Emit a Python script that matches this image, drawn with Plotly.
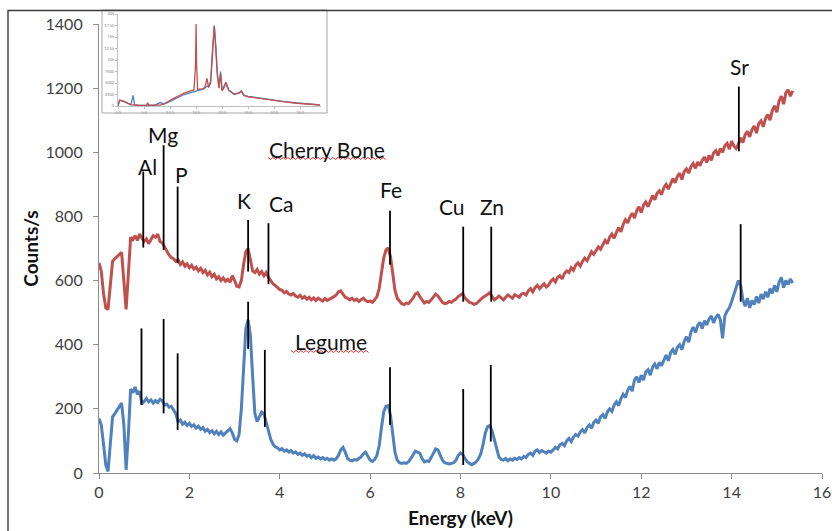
import numpy as np
import plotly.graph_objects as go

# ---------------- data ----------------
energy_step = 0.05  # keV per sample
cherry_bone = [
    655,630,560,515,510,580,660,668,675,682,688,600,510,620,735,728,740,725,745,732,
    722,730,715,728,740,735,745,722,718,705,690,680,672,668,660,665,650,658,645,652,
    640,648,636,642,630,638,625,632,618,626,612,620,605,612,600,608,598,604,595,615,
    600,582,580,600,650,690,700,665,630,625,635,620,628,615,625,610,600,590,585,578,
    572,570,562,566,558,555,560,552,548,554,545,550,542,548,540,546,538,545,540,536,
    544,538,542,545,550,555,565,568,558,548,545,540,545,538,542,535,540,545,538,534,
    536,532,540,550,575,620,670,695,702,675,620,570,545,535,528,525,530,528,535,545,
    558,562,550,538,530,535,532,540,550,558,552,540,532,528,530,535,532,538,542,550,
    556,560,545,538,532,530,526,528,535,542,548,552,558,562,550,540,545,552,546,540,
    548,555,550,545,556,552,548,558,560,555,568,575,565,578,585,575,582,590,580,586,
    598,605,596,610,615,605,622,630,625,640,632,648,655,645,660,670,662,675,690,682,
    695,705,698,712,725,715,735,745,732,750,765,752,775,790,780,798,810,795,818,830,
    812,835,845,830,850,865,852,872,880,868,890,900,885,905,918,905,925,935,915,940,
    948,935,955,965,950,970,958,975,985,968,990,975,998,1005,990,1012,1000,1020,1028,1010,
    1035,1020,1012,1025,1045,1030,1055,1065,1048,1070,1082,1060,1090,1098,1080,1105,1118,1100,1130,1145,
    1125,1160,1175,1150,1185,1195,1175,1192,
]
legume = [
    170,150,90,25,5,80,175,185,195,205,218,150,10,120,262,250,268,245,255,215,
    225,232,222,228,218,226,220,230,225,212,215,205,208,198,185,160,165,152,158,148,
    155,145,150,140,146,136,142,130,136,126,132,122,130,120,128,118,125,130,138,125,
    105,100,120,200,340,450,478,430,300,185,160,175,190,185,160,130,105,90,82,78,
    72,76,68,72,65,70,62,66,58,62,55,60,52,56,48,54,46,50,44,48,
    42,46,40,44,40,45,55,72,80,65,45,40,38,42,40,45,50,60,65,52,
    40,36,42,55,85,140,190,208,210,180,120,65,40,32,30,32,30,35,45,58,
    68,65,62,45,35,38,36,48,62,75,72,55,40,32,30,28,30,32,40,55,
    62,58,45,35,30,26,30,35,45,60,90,125,145,148,130,100,70,50,42,40,
    45,38,44,40,46,42,48,44,52,48,58,62,55,68,72,64,70,66,62,68,
    65,72,80,75,88,92,85,100,108,98,112,120,115,128,135,125,142,150,140,158,
    165,155,175,182,170,190,200,192,212,222,210,232,245,235,258,270,255,290,300,282,
    305,290,315,322,305,330,340,325,345,335,355,368,350,375,385,370,392,400,385,410,
    425,408,440,455,438,460,470,450,475,462,480,490,468,485,495,478,420,490,505,515,
    535,555,575,600,585,540,520,545,515,538,525,550,530,558,542,565,548,575,560,585,
    565,595,610,578,600,588,605,592,
]

elements = ["Al", "Mg", "P", "K", "Ca", "Fe", "Cu", "Zn", "Sr"]
cherry_line_x = [0.98, 1.43, 1.74, 3.30, 3.75, 6.44, 8.06, 8.68, 14.16]
cherry_line_top = [940, 1022, 893, 789, 779, 818, 768, 768, 1205]
cherry_line_bottom = [703, 695, 654, 628, 589, 649, 534, 534, 1003]
legume_line_x = [0.94, 1.43, 1.74, 3.30, 3.67, 6.44, 8.06, 8.67, 14.20]
legume_line_top = [451, 480, 373, 534, 384, 330, 262, 337, 776]
legume_line_bottom = [212, 186, 134, 387, 144, 150, 25, 98, 534]

series_names = ["Cherry Bone", "Legume"]

# inset (embedded overview spectrum)
inset_energy = [0, 0.3, 1.0, 2.0, 2.5, 2.9, 3.2, 4, 5.5, 5.7, 5.9, 7, 8.1, 8.9, 10, 10.8, 12, 12.7,
                14, 14.6, 14.9, 15.0, 15.1, 15.3, 16, 16.5, 16.8, 17.1, 17.4, 17.8, 18.2, 18.5,
                18.8, 19.1, 19.4, 19.7, 20.0, 20.4, 20.7, 21.0, 21.3, 22.3, 23.3, 23.7, 24.2,
                25, 26.7, 28, 30.5, 32, 34.4, 36, 38.8]
inset_red = [0, 1300, 1100, 600, 250, 250, 200, 150, 200, 700, 200, 150, 200, 500, 1100, 1700, 2400, 2800,
             3300, 3500, 9000, 17800, 9000, 3600, 3700, 3800, 4500, 6000, 4000, 5000, 12000, 17500,
             12000, 6500, 3900, 7000, 3300, 4000, 5200, 4200, 3500, 2600, 2900, 3300, 2300,
             2000, 1700, 1450, 1100, 900, 600, 420, 220]
inset_blue = [0, 1200, 1000, 550, 300, 2300, 300, 150, 150, 300, 150, 150, 750, 450, 1000, 1500, 2200, 2500,
              2900, 3100, 3300, 3300, 3300, 3400, 3500, 3700, 4000, 4300, 4200, 5500, 13000, 17400,
              13000, 7000, 4000, 7500, 3500, 4200, 5000, 4000, 3400, 2500, 2800, 3200, 2300,
              2100, 1800, 1500, 1200, 950, 650, 450, 250]

# ---------------- layout constants ----------------
W, H = 832, 531
L, R, T, B = 99, 10, 10, 58
PW, PH = W - L - R, H - T - B
RED = "#C0504D"
BLUE = "#4F81BD"
FONT = "Lato"


def px(x):
    return (x - L) / PW


def py(y):
    return (H - B - y) / PH


energy = np.round(np.arange(len(cherry_bone)) * energy_step, 2)
energy_b = np.round(np.arange(len(legume)) * energy_step, 2)

fig = go.Figure()

fig.add_trace(go.Scatter(x=energy, y=cherry_bone, mode="lines", name=series_names[0],
                         line=dict(color=RED, width=3)))
fig.add_trace(go.Scatter(x=energy_b, y=legume, mode="lines", name=series_names[1],
                         line=dict(color=BLUE, width=3)))


def seg(xs, tops, bottoms):
    X, Y = [], []
    for x, t, b in zip(xs, tops, bottoms):
        X += [x, x, None]
        Y += [b, t, None]
    return X, Y


for xs, tops, bots in [(cherry_line_x, cherry_line_top, cherry_line_bottom),
                       (legume_line_x, legume_line_top, legume_line_bottom)]:
    X, Y = seg(xs, tops, bots)
    fig.add_trace(go.Scatter(x=X, y=Y, mode="lines", line=dict(color="black", width=1.8),
                             hoverinfo="skip"))

# inset traces
fig.add_trace(go.Scatter(x=inset_energy, y=inset_blue, mode="lines", xaxis="x2", yaxis="y2",
                         line=dict(color=BLUE, width=1.3)))
fig.add_trace(go.Scatter(x=inset_energy, y=inset_red, mode="lines", xaxis="x2", yaxis="y2",
                         line=dict(color=RED, width=1.3)))

# element labels (pixel positions above the Cherry Bone markers)
label_px = {"Al": (147, 166), "Mg": (163, 134), "P": (181, 174), "K": (244, 200),
            "Ca": (281, 203), "Fe": (391, 189), "Cu": (452, 206), "Zn": (492, 206),
            "Sr": (739, 67)}
annotations = []
for el in elements:
    x, y = label_px[el]
    annotations.append(dict(x=px(x), y=py(y), xref="paper", yref="paper", text=el,
                            showarrow=False, xanchor="center", yanchor="middle",
                            font=dict(family=FONT, size=21, color="#111111")))
for text, (x, y) in zip(series_names, [(327, 149), (331, 341)]):
    annotations.append(dict(x=px(x), y=py(y), xref="paper", yref="paper", text=text,
                            showarrow=False, xanchor="center", yanchor="middle",
                            font=dict(family=FONT, size=21, color="#111111")))

shapes = []
# red wavy spell-check underlines
for x0, x1, yy in [(268, 387, 158), (291, 370, 351)]:
    pts = []
    k = 0
    xx = x0
    while xx <= x1:
        pts.append((px(xx), py(yy + (1.5 if k % 2 else -0.5))))
        xx += 2.5
        k += 1
    path = "M " + " L ".join(f"{a:.5f},{b:.5f}" for a, b in pts)
    shapes.append(dict(type="path", path=path, xref="paper", yref="paper",
                       line=dict(color="#E03030", width=1)))

# inset frame
shapes.append(dict(type="rect", xref="paper", yref="paper", x0=px(102), x1=px(327),
                   y0=py(113), y1=py(10), line=dict(color="#A6A6A6", width=1)))
# outer border of the chart area (screenshot frame)
shapes.append(dict(type="rect", xref="paper", yref="paper", x0=px(8), x1=px(845),
                   y0=py(560), y1=py(10.5), line=dict(color="#3A3A3A", width=1.4)))

axis_common = dict(showgrid=False, zeroline=False, showline=True, linecolor="#8C8C8C",
                   linewidth=1.2, ticks="outside", ticklen=5, tickcolor="#8C8C8C",
                   automargin=False,
                   tickfont=dict(family=FONT, size=16, color="#404040"))
inset_axis = dict(showgrid=False, zeroline=False, showline=True, linecolor="#BFBFBF", linewidth=1,
                  ticks="outside", ticklen=2, tickcolor="#BFBFBF", automargin=False,
                  tickfont=dict(family=FONT, size=4, color="#808080"))

fig.update_layout(
    width=W, height=H,
    margin=dict(l=L, r=R, t=T, b=B, pad=0, autoexpand=False),
    paper_bgcolor="white", plot_bgcolor="white",
    showlegend=False, hovermode=False,
    xaxis=dict(range=[0, 16], tickvals=list(range(0, 17, 2)),
               title=dict(text="<b>Energy (keV)</b>", font=dict(family=FONT, size=19, color="#111111"),
                          standoff=11),
               **axis_common),
    yaxis=dict(range=[0, 1400], tickvals=list(range(0, 1401, 200)), domain=[0, py(24)],
               ticklabelstandoff=7,
               title=dict(text="<b>Counts/s</b>", font=dict(family=FONT, size=19, color="#111111"),
                          standoff=1),
               **axis_common),
    xaxis2=dict(domain=[px(118), px(321)], anchor="y2", range=[0, 39],
                tickvals=[0, 5, 10, 15, 20, 25, 30, 35], tickformat=".1f", **inset_axis),
    yaxis2=dict(domain=[py(106), py(14)], anchor="x2", range=[0, 20000],
                tickvals=list(range(0, 20001, 2500)), **inset_axis),
    annotations=annotations,
    shapes=shapes,
)

fig.write_html("out.html")
